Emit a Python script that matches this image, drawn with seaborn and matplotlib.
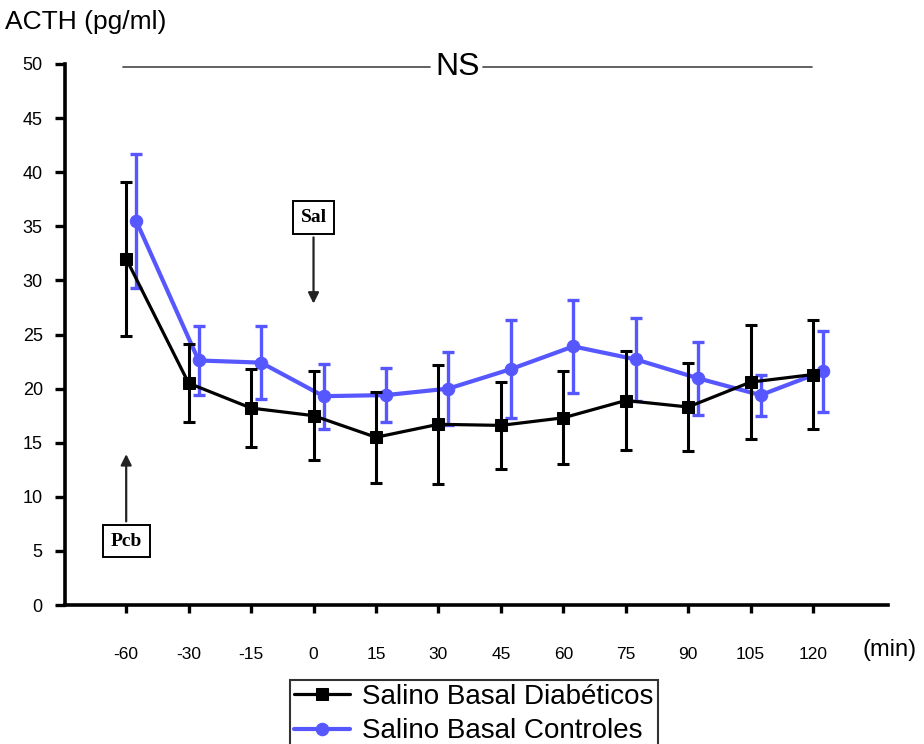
import numpy as np
import pandas as pd
import matplotlib
matplotlib.use("Agg")
import matplotlib.pyplot as plt
import seaborn as sns

# data (mean +/- error)
times = ['-60', '-30', '-15', '0', '15', '30', '45', '60', '75', '90', '105', '120']
diab_mean = [32.0, 20.5, 18.2, 17.5, 15.5, 16.7, 16.6, 17.3, 18.9, 18.3, 20.6, 21.3]
diab_err = [7.1, 3.6, 3.6, 4.1, 4.2, 5.5, 4.05, 4.3, 4.55, 4.05, 5.3, 5.05]
ctrl_mean = [35.5, 22.6, 22.4, 19.3, 19.4, 20.0, 21.8, 23.9, 22.7, 20.95, 19.4, 21.6]
ctrl_err = [6.2, 3.2, 3.35, 3.0, 2.5, 3.4, 4.5, 4.3, 3.85, 3.35, 1.9, 3.75]
yticks = [0, 5, 10, 15, 20, 25, 30, 35, 40, 45, 50]

blue = '#5757ff'
sns.set_style('ticks')
plt.rcParams['font.family'] = ['Liberation Sans', 'DejaVu Sans']
plt.rcParams.update({'text.color': 'black', 'axes.edgecolor': 'black',
                     'xtick.color': 'black', 'ytick.color': 'black',
                     'axes.labelcolor': 'black'})

pos = np.arange(len(times))
shift = 0.16
df_d = pd.DataFrame({'x': pos, 'y': diab_mean})
df_c = pd.DataFrame({'x': pos + shift, 'y': ctrl_mean})

fig = plt.figure(figsize=(9.24, 7.44), dpi=100)
ax = fig.add_axes([65/924, 139/744, (888-65)/924, 541/744])

# controls first so the black series sits on top
ax.errorbar(pos + shift, ctrl_mean, yerr=ctrl_err, fmt='none', ecolor=blue,
            elinewidth=2.4, capsize=4.2, capthick=2.4, zorder=2)
sns.lineplot(data=df_c, x='x', y='y', ax=ax, color=blue, lw=3, marker='o',
             markersize=9, markeredgecolor=blue, label='Salino Basal Controles', zorder=3)
ax.errorbar(pos, diab_mean, yerr=diab_err, fmt='none', ecolor='black',
            elinewidth=2.2, capsize=4.2, capthick=2.2, zorder=4)
sns.lineplot(data=df_d, x='x', y='y', ax=ax, color='black', lw=2.3, marker='s',
             markersize=9, markeredgecolor='black', label='Salino Basal Diabéticos', zorder=5)

ax.set_xlim(-0.98, 12.2)
ax.set_ylim(0, 50)
ax.set_xticks(pos)
ax.set_xticklabels(times, fontsize=12.5)
ax.set_yticks(yticks)
ax.set_yticklabels([str(v) for v in yticks], fontsize=13)
ax.set_xlabel('')
ax.set_ylabel('')
sns.despine(ax=ax)
for s in ['left', 'bottom']:
    ax.spines[s].set_linewidth(2.6)
ax.tick_params(axis='y', length=7, width=2.4, pad=9)
ax.tick_params(axis='x', length=6, width=2.4, pad=24)

# NS bracket
ax.plot([-0.05, 4.87], [49.7, 49.7], color='#555555', lw=1.3, clip_on=False)
ax.plot([5.72, 10.98], [49.7, 49.7], color='#555555', lw=1.3, clip_on=False)
ax.text(5.3, 49.7, 'NS', ha='center', va='center', fontsize=23,
        family=['Liberation Sans Narrow', 'Liberation Sans'])

# injection markers
arrow = dict(arrowstyle='-|>', color='#222222', lw=1.6, mutation_scale=16)
box = dict(boxstyle='square,pad=0.4', fc='white', ec='black', lw=1.4)
ax.annotate('Sal', xy=(3, 27.6), xytext=(3, 35.8), ha='center', va='center',
            fontsize=14, fontweight='bold', family=['Liberation Serif'],
            arrowprops=arrow, bbox=box)
ax.annotate('Pcb', xy=(0, 14.2), xytext=(0, 5.9), ha='center', va='center',
            fontsize=14, fontweight='bold', family=['Liberation Serif'],
            arrowprops=arrow, bbox=box)

fig.text(5/924, 1 - 22/744, 'ACTH (pg/ml)', fontsize=19, va='center')
fig.text(862/924, 1 - 650/744, '(min)', fontsize=17, va='center')

h, l = ax.get_legend_handles_labels()
order = [l.index('Salino Basal Diabéticos'), l.index('Salino Basal Controles')]
leg = fig.legend([h[i] for i in order], [l[i] for i in order],
                 loc='upper left', bbox_to_anchor=(290/924, 1 - 680/744),
                 fontsize=20, frameon=True, fancybox=False, handlelength=2.0,
                 handletextpad=0.45, labelspacing=0.3, borderpad=0.15,
                 borderaxespad=0)
leg.get_frame().set_edgecolor('black')
leg.get_frame().set_linewidth(1.5)
if ax.get_legend():
    ax.get_legend().remove()

fig.savefig('out.png', dpi=100)
